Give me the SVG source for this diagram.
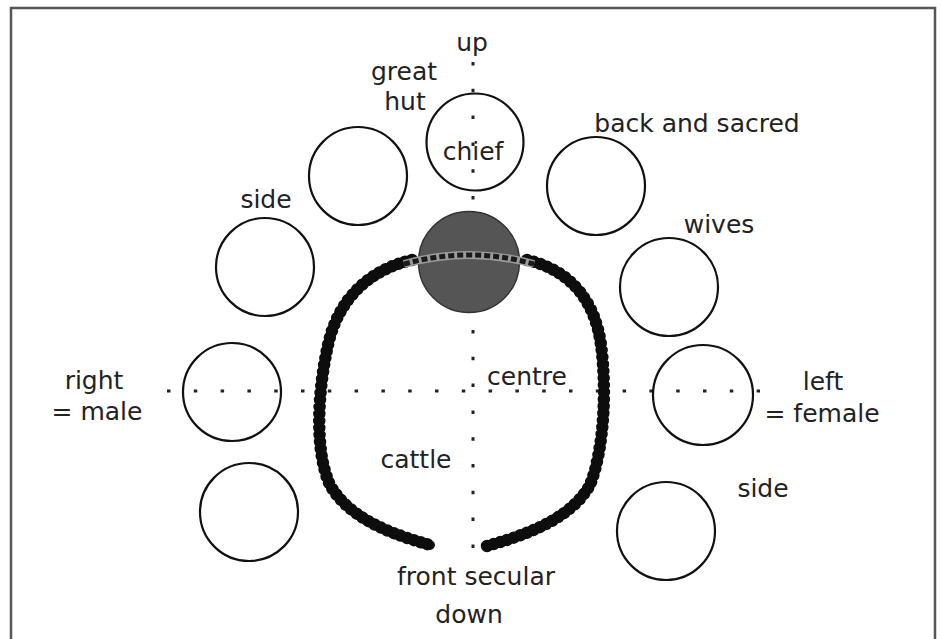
<svg xmlns="http://www.w3.org/2000/svg" width="942" height="639" viewBox="0 0 942 639">
  <style>
    .hut { fill: none; stroke: #111; stroke-width: 2.2; }
    .lbl { font-family: "DejaVu Sans", "Liberation Sans", sans-serif; font-size: 25px; fill: #222; text-anchor: middle; }
    .axis { fill: none; stroke: #222; stroke-width: 3; stroke-dasharray: 3.5 23.3; }
    .fence-core { fill: none; stroke: #1a1a1a; stroke-width: 10; stroke-linecap: round; }
    .fence-bead { fill: none; stroke: #0d0d0d; stroke-width: 12.5; stroke-linecap: round; stroke-dasharray: 0 7; }
  </style>
  <rect x="0" y="0" width="942" height="639" fill="#ffffff"/>
  <rect x="11" y="8" width="924" height="640" fill="none" stroke="#555" stroke-width="2.5"/>

  <g id="axes">
    <path class="axis" d="M473,62 V549"/>
    <path class="axis" d="M167,391 H760"/>
  </g>

  <g id="hut-chief"><circle class="hut" cx="475" cy="142" r="48.5"/><text class="lbl" x="473" y="160">chief</text></g>
  <g id="hut-great"><circle class="hut" cx="358" cy="176" r="49"/><text class="lbl" x="404" y="80">great</text><text class="lbl" x="405" y="110">hut</text></g>
  <g id="hut-back"><circle class="hut" cx="596" cy="186" r="49"/><text class="lbl" x="697" y="132">back and sacred</text></g>
  <g id="hut-wives"><circle class="hut" cx="669" cy="287" r="49"/><text class="lbl" x="719" y="233">wives</text></g>
  <g id="hut-side-left"><circle class="hut" cx="265" cy="267" r="49"/><text class="lbl" x="266" y="208">side</text></g>
  <g id="hut-right"><circle class="hut" cx="232" cy="392" r="49"/></g>
  <g id="hut-left"><circle class="hut" cx="703" cy="395" r="50"/></g>
  <g id="hut-bottom-left"><circle class="hut" cx="249" cy="512" r="49"/></g>
  <g id="hut-side-right"><circle class="hut" cx="666" cy="531" r="49"/><text class="lbl" x="763" y="497">side</text></g>

  <g id="connectors">
    <path class="fence-core" d="M412,260 C368,270 338,300 328,345 C318,390 314,450 330,485 C350,520 395,535 430,545"/>
    <path class="fence-bead" d="M412,260 C368,270 338,300 328,345 C318,390 314,450 330,485 C350,520 395,535 430,545"/>
    <path class="fence-core" d="M527,260 C570,270 595,300 601,345 C607,390 604,450 590,485 C570,520 525,535 487,546"/>
    <path class="fence-bead" d="M527,260 C570,270 595,300 601,345 C607,390 604,450 590,485 C570,520 525,535 487,546"/>
  </g>

  <g id="cattle-byre">
    <circle cx="469" cy="262" r="50.5" fill="#555" stroke="#333" stroke-width="1.5"/>
    <path d="M404,264 Q469,246 534,264" fill="none" stroke="#9a9a9a" stroke-width="8"/>
    <path d="M404,264 Q469,246 534,264" fill="none" stroke="#1a1a1a" stroke-width="5" stroke-dasharray="6 3"/>
  </g>

  <g id="labels">
    <text class="lbl" x="472" y="51">up</text>
    <text class="lbl" x="94" y="389">right</text>
    <text class="lbl" x="97" y="420">= male</text>
    <text class="lbl" x="527" y="385">centre</text>
    <text class="lbl" x="823" y="390">left</text>
    <text class="lbl" x="822" y="422">= female</text>
    <text class="lbl" x="416" y="468">cattle</text>
    <text class="lbl" x="476" y="585">front secular</text>
    <text class="lbl" x="469" y="623">down</text>
  </g>
</svg>
